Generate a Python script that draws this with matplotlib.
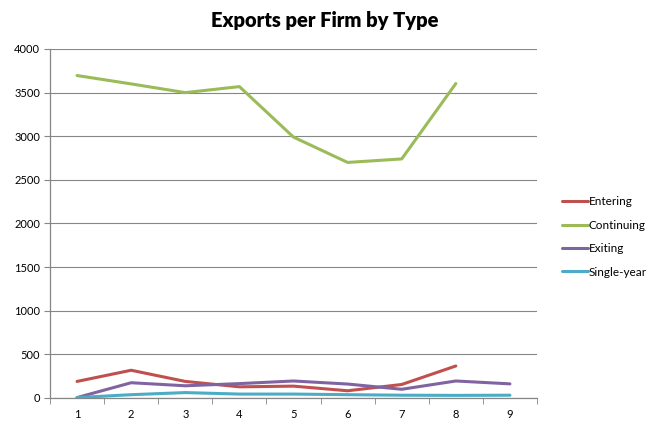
import numpy as np
import matplotlib.pyplot as plt

plt.rcParams['font.family'] = ['Lato', 'DejaVu Sans']

periods = [1, 2, 3, 4, 5, 6, 7, 8, 9]
entering = [190, 318, 190, 128, 136, 83, 155, 367, None]
continuing = [3696, 3600, 3500, 3569, 2990, 2700, 2740, 3604, None]
exiting = [5, 175, 140, 165, 195, 160, 100, 195, 162]
single_year = [5, 38, 62, 45, 45, 38, 32, 30, 32]

series = [
    ('Entering', entering, '#C0504D'),
    ('Continuing', continuing, '#9BBB59'),
    ('Exiting', exiting, '#8064A2'),
    ('Single-year', single_year, '#4BACC6'),
]

fig = plt.figure(figsize=(6.47, 4.25), dpi=100)
ax = fig.add_axes([50/647, 1 - 398/425, 487/647, 349/425])

for name, vals, col in series:
    v = np.array([np.nan if y is None else y for y in vals], dtype=float)
    ax.plot(periods, v, color=col, lw=2.2, label=name, solid_capstyle='round')

ax.set_xlim(0.5, 9.5)
ax.set_ylim(0, 4000)
ax.set_yticks(np.arange(0, 4001, 500))
ax.set_xticks(periods)
ax.set_xticks(np.arange(0.5, 9.6, 1), minor=True)
ax.tick_params(axis='x', which='major', length=0, pad=8, labelsize=8)
ax.tick_params(axis='x', which='minor', length=4, color='#868686', direction='out')
ax.tick_params(axis='y', length=4, color='#868686', labelsize=8, pad=3)
ax.grid(axis='y', color='#868686', lw=0.8)
ax.set_axisbelow(True)
for s in ['top', 'right']:
    ax.spines[s].set_visible(False)
for s in ['left', 'bottom']:
    ax.spines[s].set_color('#868686')
    ax.spines[s].set_linewidth(0.9)

fig.text(325/647, 1 - 20/425, 'Exports per Firm by Type', ha='center', va='center',
         fontsize=14.5, fontweight='heavy')

ax.legend(loc='center left', bbox_to_anchor=(551/647, 1 - 237/425),
          bbox_transform=fig.transFigure, frameon=False, fontsize=8.5,
          handlelength=2.2, handletextpad=0.1, labelspacing=1.05)

fig.savefig('out.png', dpi=100)
